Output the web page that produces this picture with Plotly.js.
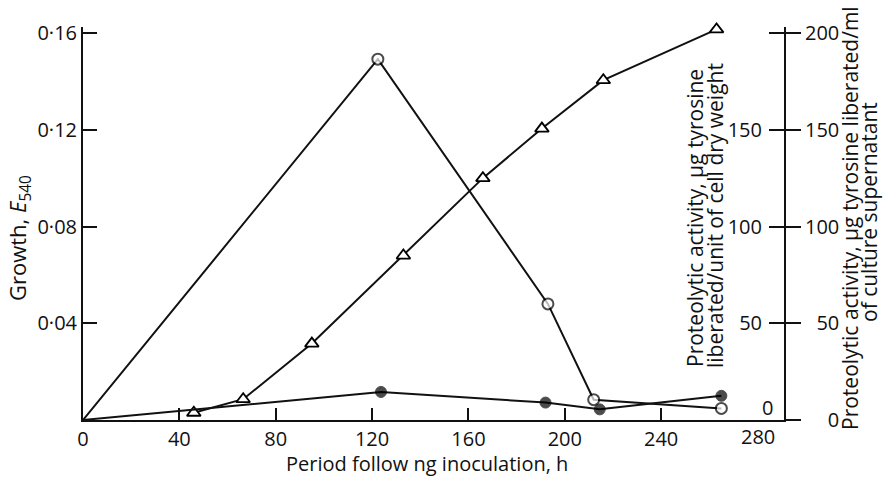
<!DOCTYPE html>
<html>
<head>
<meta charset="utf-8">
<script src="https://cdn.plot.ly/plotly-3.0.1.min.js"></script>
<style>html,body{margin:0;padding:0;background:#fff;}#chart{width:883px;height:477px;}</style>
</head>
<body>
<div id="chart"></div>
<script>
// Growth (E540), triangles, left axis
const growthHours = [46, 66.5, 95, 133, 166, 190.5, 216, 263];
const growthE540 = [0.003, 0.0086, 0.0316, 0.068, 0.100, 0.1205, 0.1405, 0.1615];
// Proteolytic activity per unit cell dry weight, open circles (inner right scale)
const cellHours = [0, 122.4, 193, 212, 265];
const cellActivity = [0, 186.5, 60, 10.5, 6];
// Proteolytic activity per ml culture supernatant, filled circles (outer right scale)
const supHours = [0, 123.7, 192, 214.5, 265];
const supActivity = [0, 14.5, 9, 5.5, 12.5];
// Tick labels
const xTickVals = [0, 40, 80, 120, 160, 200, 240, 280];
const xTickText = ["0", "40", "80", "120", "160", "200", "240", "280"];
const yTickVals = [0.04, 0.08, 0.12, 0.16];
const yTickText = ["0·04", "0·08", "0·12", "0·16"];
const rTickVals = [0, 50, 100, 150, 200];
const rTickText = ["0", "50", "100", "150", "200"];
const innerTickVals = [50, 100, 150, 200];
const innerTickText = ["50", "100", "150", "200"];

const FONT = "Open Sans, sans-serif";
const INK = "#111";
const FS = "\u2007";
const padLeft = s => FS.repeat(3 - s.length) + s;

const traces = [
  {x: cellHours, y: cellActivity, yaxis: "y3", mode: "lines+markers", cliponaxis: false,
   line: {color: INK, width: 2},
   marker: {symbol: "circle", size: cellHours.map((h, i) => i === 0 ? 0 : 11), color: "#fff", line: {width: 2, color: "#000"}}},
  {x: supHours, y: supActivity, yaxis: "y2", mode: "lines+markers", cliponaxis: false,
   line: {color: INK, width: 2},
   marker: {symbol: "circle", size: supHours.map((h, i) => i === 0 ? 0 : 11), color: "#000", line: {width: 1, color: "#000"}}},
  {x: growthHours, y: growthE540, yaxis: "y", mode: "lines+markers", cliponaxis: false,
   line: {color: INK, width: 2},
   marker: {symbol: "triangle-up", size: 12, color: "#fff", line: {width: 1.8, color: "#000"}}}
];

const PW = 790, PH = 393, L = 83, T = 27;
const px = v => (v - L) / PW;
const py = v => (T + PH - v) / PH;
const YMAX = 0.1625, RMAX = YMAX * 1250;

const tf = {family: FONT, size: 20, color: INK};
const xLast = xTickVals.length - 1;

const layout = {
  width: 883, height: 477,
  margin: {l: L, r: 883 - L - PW, t: T, b: 477 - T - PH, pad: 0},
  paper_bgcolor: "#fff", plot_bgcolor: "#fff",
  showlegend: false,
  font: {family: FONT, size: 20, color: INK},
  xaxis: {domain: [0, 701 / PW], range: [0, 291], showline: true, linewidth: 2, linecolor: INK,
          ticks: "inside", ticklen: 12, tickwidth: 2, tickcolor: INK,
          tickvals: xTickVals, ticktext: xTickText, showgrid: false, zeroline: false, tickfont: tf},
  yaxis: {range: [0, YMAX], anchor: "x", showline: true, linewidth: 2, linecolor: INK,
          ticks: "inside", ticklen: 14, tickwidth: 2, tickcolor: INK,
          tickvals: yTickVals, ticktext: yTickText, showgrid: false, zeroline: false, tickfont: tf},
  yaxis2: {range: [0, RMAX], overlaying: "y", anchor: "x", side: "right", showline: true, linewidth: 2, linecolor: INK,
           ticks: "outside", ticklen: 15, tickwidth: 2, tickcolor: INK,
           tickvals: rTickVals, ticktext: rTickText.map(padLeft),
           showgrid: false, zeroline: false, tickfont: tf},
  yaxis3: {range: [0, RMAX], overlaying: "y", anchor: "x", side: "right", showline: false,
           ticks: "inside", ticklen: 15, tickwidth: 2, tickcolor: INK, ticklabelposition: "inside",
           ticklabelstandoff: 8,
           tickvals: innerTickVals, ticktext: innerTickText, showgrid: false, zeroline: false, tickfont: tf},
  annotations: [
    // last x tick label (Plotly hides it next to the inside labels of the right axis)
    {text: xTickText[xLast], xref: "x", yref: "paper", x: xTickVals[xLast], y: py(437),
     showarrow: false, xanchor: "center", yanchor: "middle", font: tf},
    {text: "0", xref: "paper", yref: "y3", x: px(767), y: 0, yshift: 13,
     showarrow: false, xanchor: "center", yanchor: "middle", font: tf},
    {text: "Growth, <i>E</i><sub>540</sub>", xref: "paper", yref: "paper", x: px(19), y: py(238),
     textangle: -90, showarrow: false, xanchor: "center", yanchor: "middle", font: {family: FONT, size: 22, color: INK}},
    {text: "Period follow ng inoculation, h", xref: "paper", yref: "paper", x: px(427), y: py(464),
     showarrow: false, xanchor: "center", yanchor: "middle", font: {family: FONT, size: 20, color: INK}},
    {text: "Proteolytic activity, μg tyrosine", xref: "paper", yref: "paper",
     x: px(695), y: py(218), textangle: -90, showarrow: false, xanchor: "center", yanchor: "middle",
     font: {family: FONT, size: 21, color: INK}},
    {text: "liberated/unit of cell dry weight", xref: "paper", yref: "paper",
     x: px(715), y: py(216), textangle: -90, showarrow: false, xanchor: "center", yanchor: "middle",
     font: {family: FONT, size: 21, color: INK}},
    {text: "Proteolytic activity, μg tyrosine liberated/ml", xref: "paper", yref: "paper",
     x: px(850), y: py(218), textangle: -90, showarrow: false, xanchor: "center", yanchor: "middle",
     font: {family: FONT, size: 21, color: INK}},
    {text: "of culture supernatant", xref: "paper", yref: "paper",
     x: px(869), y: py(212), textangle: -90, showarrow: false, xanchor: "center", yanchor: "middle",
     font: {family: FONT, size: 21, color: INK}}
  ]
};

Plotly.newPlot("chart", traces, layout, {staticPlot: true, displayModeBar: false});
</script>
</body>
</html>
